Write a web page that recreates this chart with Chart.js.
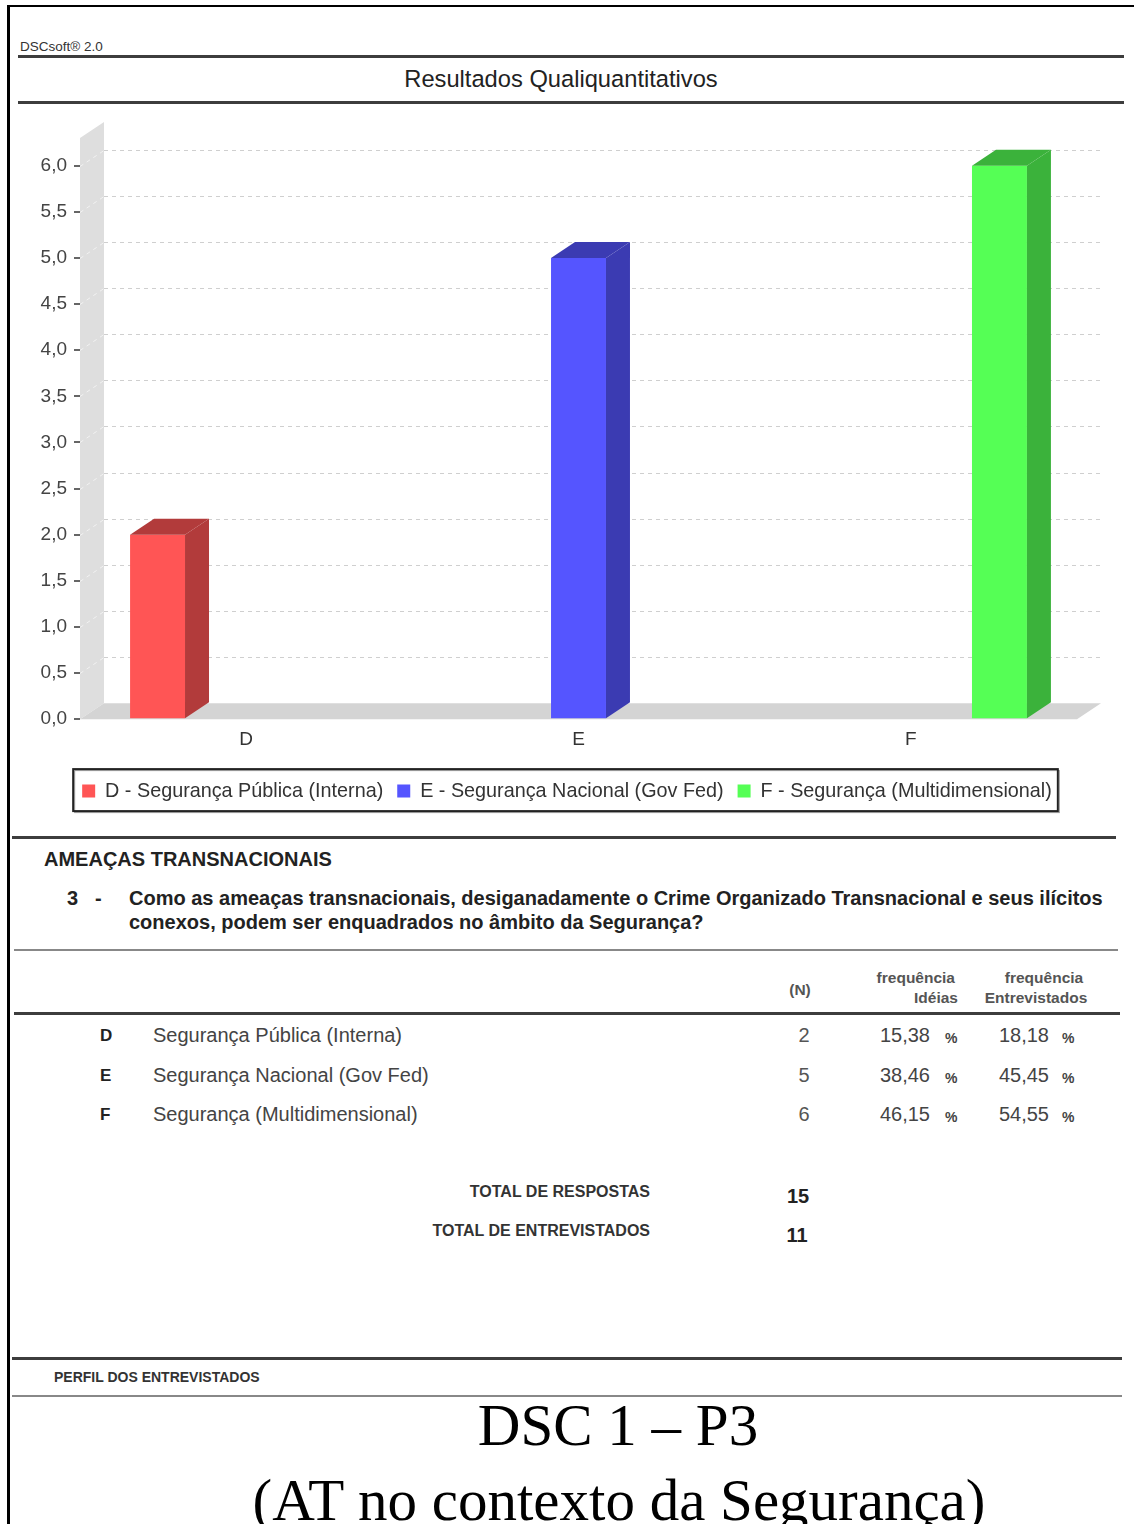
<!DOCTYPE html>
<html lang="pt-BR">
<head>
<meta charset="utf-8">
<title>DSC 1 – P3</title>
<script src="https://cdn.jsdelivr.net/npm/chart.js@4.4.1/dist/chart.umd.min.js"></script>
<style>
body { margin: 0; background: #fff; }
#page { position: relative; width: 1134px; height: 1524px; overflow: hidden; background: #fff;
  font-family: "Liberation Sans", Arial, Helvetica, sans-serif; color: #333; }
.t { position: absolute; white-space: nowrap; line-height: 1; transform: translateY(-50%); }
.c { transform: translate(-50%, -50%); }
.b { font-weight: bold; }
.rule { position: absolute; background: #3d3d3d; }
.thin { background: #888; }
#chart { position: absolute; left: 0; top: 105px; }
.serif { font-family: "Liberation Serif", "Times New Roman", serif; color: #000; font-size: 59px; }
</style>
</head>
<body>
<div id="page">
  <div class="rule" style="left:7px;top:5px;width:3px;height:1519px;background:#000"></div>
  <div class="rule" style="left:7px;top:5px;width:1127px;height:2px;background:#000"></div>

  <div class="t" style="left:20px;top:47px;font-size:13.5px;color:#333">DSCsoft® 2.0</div>
  <div class="rule" style="left:18px;top:55px;width:1106px;height:3px"></div>
  <div class="t c" style="left:561px;top:80px;font-size:23.7px;color:#222">Resultados Qualiquantitativos</div>
  <div class="rule" style="left:18px;top:101px;width:1106px;height:3px"></div>

  <canvas id="chart" width="1134" height="714"></canvas>

  <div class="rule" style="left:12px;top:836px;width:1104px;height:3px"></div>
  <div class="t b" style="left:44px;top:859px;font-size:20px;color:#222">AMEAÇAS TRANSNACIONAIS</div>
  <div class="t b" style="left:67px;top:898px;font-size:20px;color:#222">3</div>
  <div class="t b" style="left:95px;top:898px;font-size:20px;color:#222">-</div>
  <div class="t b" style="left:129px;top:898px;font-size:20px;color:#222">Como as ameaças transnacionais, desiganadamente o Crime Organizado Transnacional e seus ilícitos</div>
  <div class="t b" style="left:129px;top:922px;font-size:20px;color:#222">conexos, podem ser enquadrados no âmbito da Segurança?</div>
  <div class="rule thin" style="left:14px;top:949px;width:1104px;height:2px"></div>

  <div class="t b c" style="left:800px;top:990px;font-size:15.5px;color:#555">(N)</div>
  <div class="t b" style="right:179px;top:978px;font-size:15.5px;color:#555">frequência</div>
  <div class="t b" style="right:176px;top:998px;font-size:15.5px;color:#555">Idéias</div>
  <div class="t b c" style="left:1044px;top:978px;font-size:15.5px;color:#555">frequência</div>
  <div class="t b c" style="left:1036px;top:998px;font-size:15.5px;color:#555">Entrevistados</div>
  <div class="rule" style="left:14px;top:1012px;width:1106px;height:3px"></div>

  <div id="rows"></div>

  <div class="t b" style="right:484px;top:1192px;font-size:16px;color:#333">TOTAL DE RESPOSTAS</div>
  <div class="t b c" id="totResp" style="left:798px;top:1196px;font-size:20px;color:#222"></div>
  <div class="t b" style="right:484px;top:1231px;font-size:16px;color:#333">TOTAL DE ENTREVISTADOS</div>
  <div class="t b c" id="totEntr" style="left:797px;top:1235px;font-size:20px;color:#222"></div>

  <div class="rule" style="left:12px;top:1357px;width:1110px;height:3px"></div>
  <div class="t b" style="left:54px;top:1377px;font-size:14px;color:#333">PERFIL DOS ENTREVISTADOS</div>
  <div class="rule thin" style="left:12px;top:1395px;width:1110px;height:2px"></div>

  <div class="t c serif" style="left:618px;top:1425px">DSC 1 – P3</div>
  <div class="t c serif" style="left:619px;top:1500px">(AT no contexto da Segurança)</div>
</div>

<script>
const categorias = ['D', 'E', 'F'];
const nomes = ['Segurança Pública (Interna)', 'Segurança Nacional (Gov Fed)', 'Segurança (Multidimensional)'];
const respostas = [2, 5, 6];
const freqIdeias = ['15,38', '38,46', '46,15'];
const freqEntrevistados = ['18,18', '45,45', '54,55'];
const totalRespostas = 15;
const totalEntrevistados = 11;

const corFrente = ['#ff5555', '#5555ff', '#55ff55'];
const corLado = ['#b23b3b', '#3b3bb2', '#3bb23b'];
const DX = 24, DY = -16; // 3D depth offset

// table rows under the chart
function addText(parent, text, style, cls) {
    const el = document.createElement('div');
    el.className = 't ' + (cls || '');
    el.textContent = text;
    el.setAttribute('style', style);
    parent.appendChild(el);
}
const rows = document.getElementById('rows');
categorias.forEach((cat, i) => {
    const y = 1035 + i * 39.5;
    addText(rows, cat, `left:100px;top:${y}px;font-size:17px;color:#222`, 'b');
    addText(rows, nomes[i], `left:153px;top:${y}px;font-size:20px;color:#444`);
    addText(rows, String(respostas[i]), `left:804px;top:${y}px;font-size:20px;color:#555`, 'c');
    addText(rows, freqIdeias[i], `right:204px;top:${y}px;font-size:20px;color:#444`);
    addText(rows, '%', `left:945px;top:${y + 3}px;font-size:14px;color:#444`, 'b');
    addText(rows, freqEntrevistados[i], `right:85px;top:${y}px;font-size:20px;color:#444`);
    addText(rows, '%', `left:1062px;top:${y + 3}px;font-size:14px;color:#444`, 'b');
});
document.getElementById('totResp').textContent = totalRespostas;
document.getElementById('totEntr').textContent = totalEntrevistados;

// fake 3D: back wall, floor, gridlines on the back plane, bar sides and tops
const depth3d = {
    id: 'depth3d',
    afterLayout(chart) {
        // center the legend on the whole canvas, not on the padded area
        chart.legend.left = 0;
        chart.legend.right = chart.width;
    },
    beforeDatasetsDraw(chart) {
        const { ctx, chartArea: a, scales: { y } } = chart;
        ctx.save();
        ctx.fillStyle = '#dedede';
        ctx.beginPath();
        ctx.moveTo(a.left, a.top);
        ctx.lineTo(a.left + DX, a.top + DY);
        ctx.lineTo(a.left + DX, a.bottom + DY);
        ctx.lineTo(a.left, a.bottom);
        ctx.closePath();
        ctx.fill();

        ctx.fillStyle = '#d4d4d4';
        ctx.beginPath();
        ctx.moveTo(a.left, a.bottom);
        ctx.lineTo(a.left + DX, a.bottom + DY);
        ctx.lineTo(a.right + DX, a.bottom + DY);
        ctx.lineTo(a.right, a.bottom);
        ctx.closePath();
        ctx.fill();

        ctx.setLineDash([4, 4]);
        ctx.lineWidth = 1;
        y.ticks.forEach(t => {
            if (t.value === 0) return;
            const py = Math.round(y.getPixelForValue(t.value)) + 0.5;
            ctx.strokeStyle = '#cfcfcf';
            ctx.beginPath();
            ctx.moveTo(a.left + DX, py + DY);
            ctx.lineTo(a.right + DX, py + DY);
            ctx.stroke();
            ctx.strokeStyle = '#f2f2f2';
            ctx.beginPath();
            ctx.moveTo(a.left, py);
            ctx.lineTo(a.left + DX, py + DY);
            ctx.stroke();
        });
        ctx.restore();
    },
    afterDatasetsDraw(chart) {
        const ctx = chart.ctx;
        ctx.save();
        chart.data.datasets.forEach((ds, i) => {
            chart.getDatasetMeta(i).data.forEach((bar, j) => {
                if (ds.data[j] == null) return;
                const { x, y, base, width } = bar.getProps(['x', 'y', 'base', 'width'], true);
                const l = x - width / 2, r = x + width / 2;
                ctx.fillStyle = corLado[i];
                ctx.beginPath();
                ctx.moveTo(r, y);
                ctx.lineTo(r + DX, y + DY);
                ctx.lineTo(r + DX, base + DY);
                ctx.lineTo(r, base);
                ctx.closePath();
                ctx.fill();
                ctx.beginPath();
                ctx.moveTo(l, y);
                ctx.lineTo(l + DX, y + DY);
                ctx.lineTo(r + DX, y + DY);
                ctx.lineTo(r, y);
                ctx.closePath();
                ctx.fill();
            });
        });
        ctx.restore();
    },
    afterDraw(chart) {
        // border round the legend
        const boxes = chart.legend.legendHitBoxes;
        if (!boxes || !boxes.length) return;
        const first = boxes[0], last = boxes[boxes.length - 1];
        const cy = first.top + first.height / 2;
        const left = first.left - 9, right = last.left + last.width + 6;
        const top = cy - 22, bottom = cy + 20;
        const ctx = chart.ctx;
        ctx.save();
        ctx.strokeStyle = '#9a9a9a';
        ctx.lineWidth = 1;
        ctx.strokeRect(left + 1.5, top + 1.5, right - left, bottom - top);
        ctx.strokeStyle = '#222';
        ctx.lineWidth = 2;
        ctx.strokeRect(left, top, right - left, bottom - top);
        ctx.restore();
    }
};

const datasets = categorias.map((cat, i) => ({
    label: cat + ' - ' + nomes[i],
    data: categorias.map((_, j) => (j === i ? respostas[i] : null)),
    backgroundColor: corFrente[i],
    borderWidth: 0,
    categoryPercentage: 0.8,
    barPercentage: 0.62
}));

Chart.defaults.font.family = '"Liberation Sans", Arial, Helvetica, sans-serif';

new Chart(document.getElementById('chart'), {
    type: 'bar',
    data: { labels: categorias, datasets: datasets },
    options: {
        responsive: false,
        animation: false,
        events: [],
        layout: { padding: { top: 33, right: 57, left: 0, bottom: 8 } },
        scales: {
            x: {
                afterFit: s => { s.height = 48; },
                grid: { display: false },
                border: { display: false },
                ticks: { padding: 1, color: '#333', font: { size: 19 }, maxRotation: 0 }
            },
            y: {
                min: 0,
                max: 6.3,
                afterFit: s => { s.width = 80; },
                afterBuildTicks: s => { s.ticks = s.ticks.filter(t => t.value <= 6.0001); },
                grid: { drawOnChartArea: false, tickLength: 6, lineWidth: 2, color: '#666' },
                border: { display: false },
                ticks: {
                    stepSize: 0.5,
                    padding: 7,
                    color: '#444',
                    font: { size: 19 },
                    callback: v => v.toFixed(1).replace('.', ',')
                }
            }
        },
        plugins: {
            legend: {
                position: 'bottom',
                labels: { boxWidth: 13, boxHeight: 13, padding: 14, color: '#333', font: { size: 19.8 } }
            },
            tooltip: { enabled: false }
        }
    },
    plugins: [depth3d]
});
</script>
</body>
</html>
